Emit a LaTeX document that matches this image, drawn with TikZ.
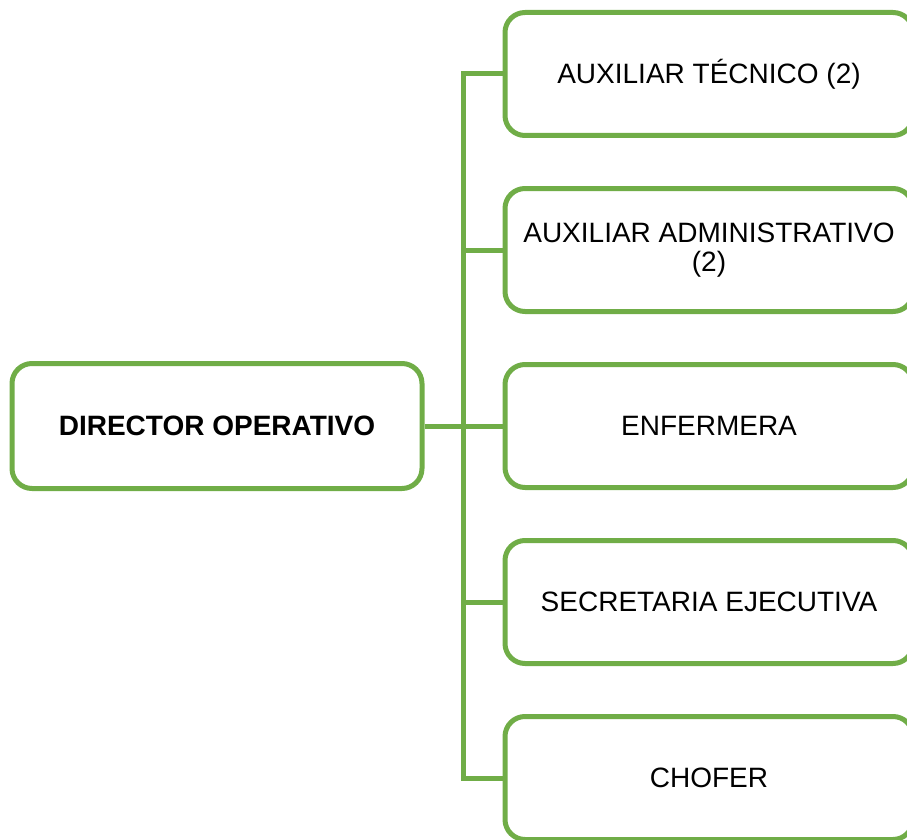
\documentclass[tikz,border=0pt]{standalone}
\usepackage{fontspec}
\setmainfont{Liberation Sans}
\definecolor{orggreen}{HTML}{70AD47}
\begin{document}
\begin{tikzpicture}[x=1pt,y=-1pt,
  box/.style={draw=orggreen, line width=5pt, rounded corners=20pt, fill=white,
    minimum width=408pt, minimum height=123pt, inner sep=0pt, align=center,
    font=\fontsize{28}{29.5}\selectfont},
  dirbox/.style={box, minimum width=410pt, minimum height=125pt, font=\fontsize{28}{29.5}\selectfont\bfseries},
  link/.style={draw=orggreen, line width=5pt}]
\useasboundingbox (0,0) rectangle (907,840);
\node[dirbox] (dir) at (217,426) {DIRECTOR OPERATIVO};
\node[box] (b1) at (709,74) {AUXILIAR TÉCNICO (2)};
\node[box] (b2) at (709,250) {AUXILIAR ADMINISTRATIVO\\(2)};
\node[box] (b3) at (709,426) {ENFERMERA};
\node[box] (b4) at (709,602) {SECRETARIA EJECUTIVA};
\node[box] (b5) at (709,778) {CHOFER};
\coordinate (t1) at (463,74);
\coordinate (t2) at (463,250);
\coordinate (t3) at (463,426);
\coordinate (t4) at (463,602);
\coordinate (t5) at (463,778);
\draw[link] (b1.west) -- (t1) -- (t5) -- (b5.west);
\draw[link] (t2) -- (b2.west);
\draw[link] (dir.east) -- (b3.west);
\draw[link] (t4) -- (b4.west);
\end{tikzpicture}
\end{document}
